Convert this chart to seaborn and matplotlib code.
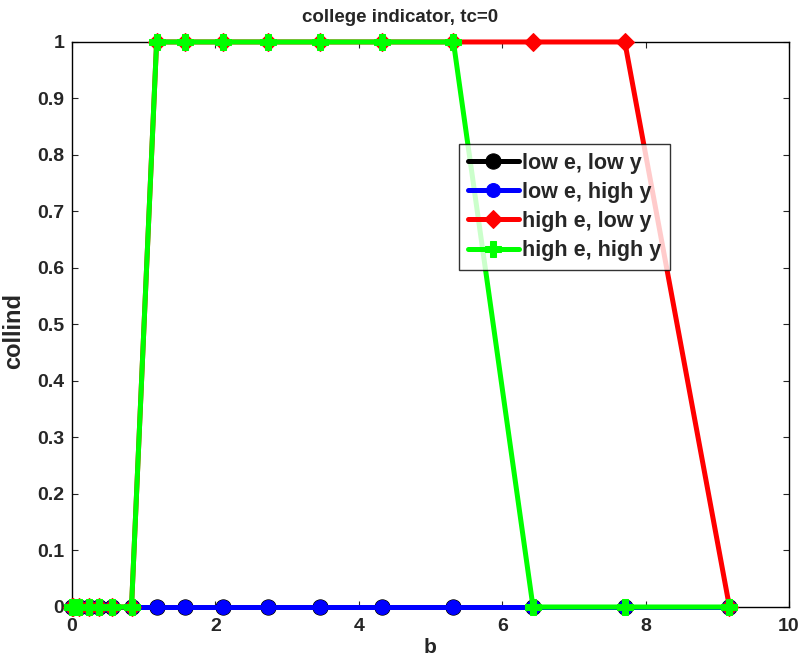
import matplotlib
matplotlib.use("Agg")
import matplotlib.pyplot as plt
import seaborn as sns
import pandas as pd

b = [0.0, 0.02, 0.1, 0.23, 0.37, 0.56, 0.83, 1.18, 1.58, 2.11, 2.74, 3.46, 4.32, 5.32, 6.43, 7.71, 9.17]
low_e_low_y = [0] * 17
low_e_high_y = [0] * 17
high_e_low_y = [0, 0, 0, 0, 0, 0, 0, 1, 1, 1, 1, 1, 1, 1, 1, 1, 0]
high_e_high_y = [0, 0, 0, 0, 0, 0, 0, 1, 1, 1, 1, 1, 1, 1, 0, 0, 0]
labels = ["low e, low y", "low e, high y", "high e, low y", "high e, high y"]
series = [low_e_low_y, low_e_high_y, high_e_low_y, high_e_high_y]
xticks = [0, 2, 4, 6, 8, 10]
xticklabels = ["0", "2", "4", "6", "8", "10"]
yticks = [0, 0.1, 0.2, 0.3, 0.4, 0.5, 0.6, 0.7, 0.8, 0.9, 1]
yticklabels = ["0", "0.1", "0.2", "0.3", "0.4", "0.5", "0.6", "0.7", "0.8", "0.9", "1"]

sns.set_style("white")
plt.rcParams['font.family'] = ['Liberation Sans', 'DejaVu Sans']
plt.rcParams['font.weight'] = 'bold'

fig = plt.figure(figsize=(8.01, 6.62), dpi=100)
ax = fig.add_axes([0.0899, 0.0831, 0.8951, 0.8535])

colors = ["#000000", "#0000ff", "#ff0000", "#00ff00"]
markers = ["o", "o", "D", "P"]
msizes = [11, 10, 9, 12]

for lab, vals, c, m, ms in zip(labels, series, colors, markers, msizes):
    df = pd.DataFrame({"b": b, "collind": vals})
    sns.lineplot(data=df, x="b", y="collind", ax=ax, color=c, marker=m,
                 markersize=ms, linewidth=3.6, markeredgecolor=c,
                 label=lab, clip_on=False, zorder=3)

ax.set_xlim(0, 10)
ax.set_ylim(0, 1)
ax.set_xticks(xticks)
ax.set_xticklabels(xticklabels)
ax.set_yticks(yticks)
ax.set_yticklabels(yticklabels)
ax.tick_params(direction="in", length=4, width=0.8, labelsize=14,
               top=True, right=True, bottom=True, left=True)
ax.tick_params(axis="x", pad=8)
ax.tick_params(axis="y", pad=5.5)
for lbl in ax.get_xticklabels() + ax.get_yticklabels():
    lbl.set_fontweight("bold")
for s in ax.spines.values():
    s.set_color("black")
    s.set_linewidth(1.0)

ax.set_xlabel("b", fontsize=15, fontweight="bold", labelpad=2)
ax.set_ylabel("collind", fontsize=17, fontweight="bold")
ax.yaxis.set_label_coords(-0.0656, 0.4885)
ax.set_title("college indicator, tc=0", fontsize=13.5, fontweight="bold",
             pad=14.5, x=0.457)

leg = ax.legend(loc="upper left", bbox_to_anchor=(0.5397, 0.8195), fontsize=15.5,
                frameon=True, fancybox=False, edgecolor="black",
                handlelength=2.4, handletextpad=0.15, borderpad=0.4,
                labelspacing=0.38, borderaxespad=0)
leg.get_frame().set_linewidth(1.0)
for t in leg.get_texts():
    t.set_fontweight("bold")

fig.savefig("out.png", dpi=100, facecolor="white")
